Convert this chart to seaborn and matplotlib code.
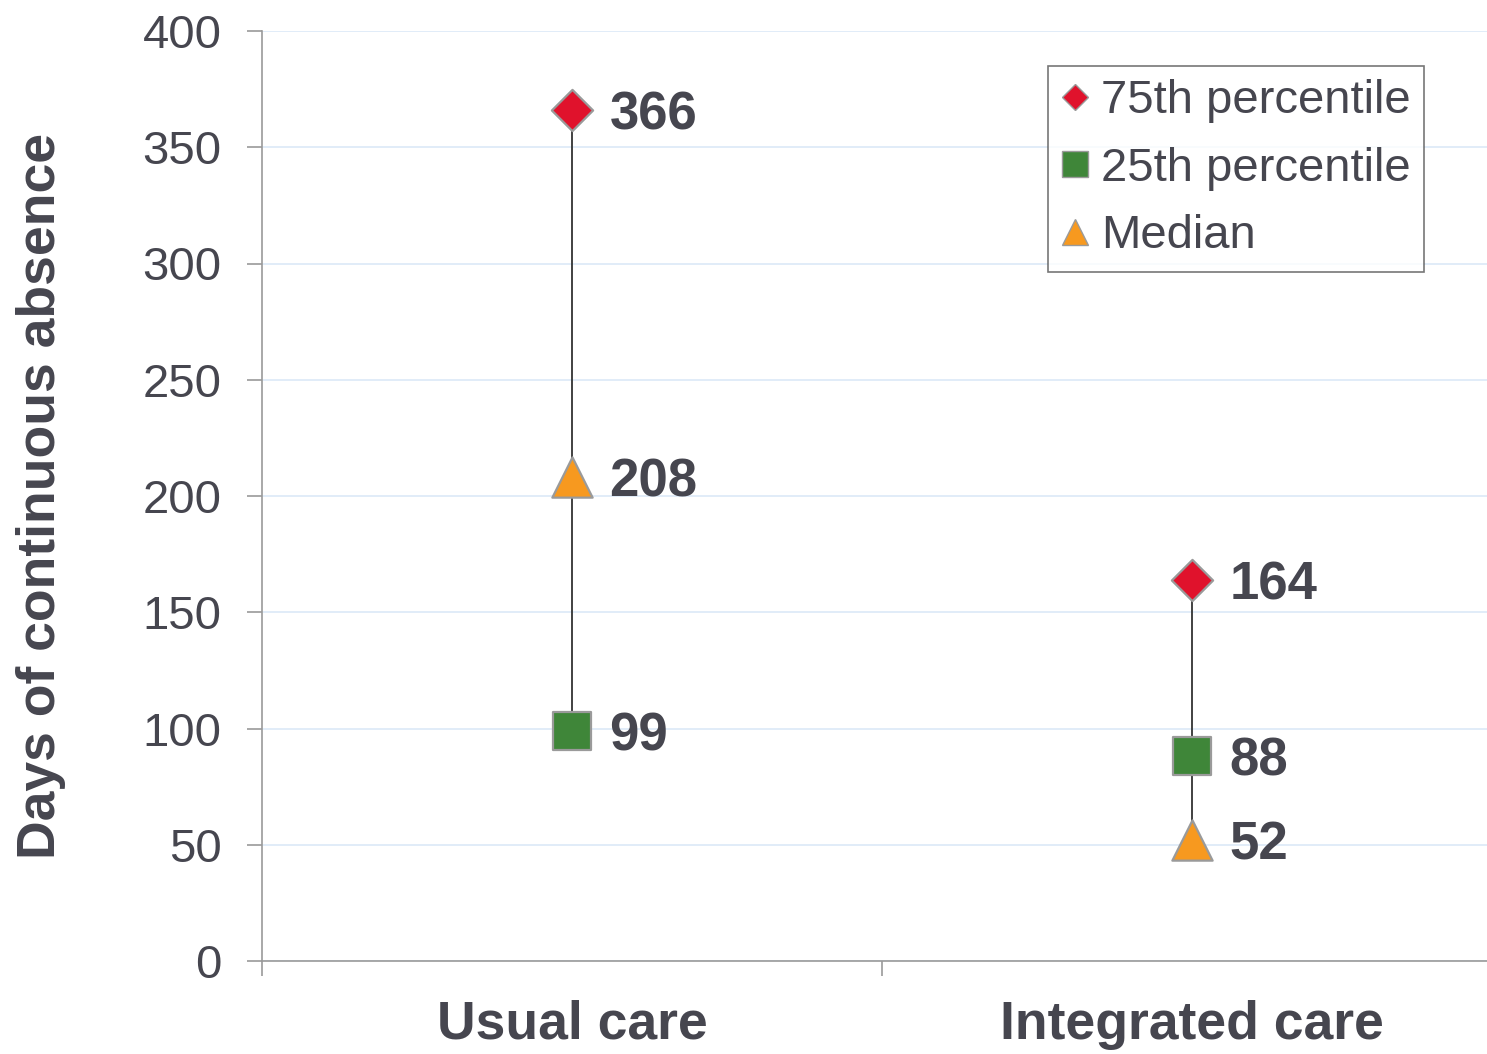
import matplotlib
matplotlib.use("Agg")
import matplotlib.pyplot as plt
from matplotlib.lines import Line2D
import numpy as np
import pandas as pd
import seaborn as sns

# data
groups = ['Usual care', 'Integrated care']
stats = ['75th percentile', '25th percentile', 'Median']
p75 = [366, 164]
p25 = [99, 88]
median = [208, 52]
yticks = [0, 50, 100, 150, 200, 250, 300, 350, 400]

colors = {'75th percentile': '#e0122c', '25th percentile': '#3f8639', 'Median': '#f7991f'}
markers = {'75th percentile': 'D', '25th percentile': 's', 'Median': '^'}
msize = {'75th percentile': 21, '25th percentile': 28, 'Median': 29}
leg_msize = {'75th percentile': 13, '25th percentile': 19, 'Median': 19}

df = pd.DataFrame({
    'group': groups * 3,
    'stat': [s for s in stats for _ in groups],
    'value': p75 + p25 + median,
})

sns.set_style("white")
plt.rcParams['font.family'] = ['Liberation Sans', 'DejaVu Sans']
txt = '#46464f'
edge = '#9a9a9a'

fig = plt.figure(figsize=(14.87, 10.54), dpi=100)
ax = fig.add_axes([262/1487, 1 - 961/1054, 1240/1487, 930/1054])

# thin line from lowest to highest value in each group
xpos = {g: i for i, g in enumerate(groups)}
rng = df.groupby('group')['value'].agg(['min', 'max'])
for g in groups:
    ax.vlines(xpos[g], rng.loc[g, 'min'], rng.loc[g, 'max'], color='#333333', lw=1.3, zorder=2)

for s in stats:
    sub = df[df['stat'] == s]
    sns.scatterplot(data=sub, x='group', y='value', marker=markers[s], color=colors[s],
                    s=msize[s] ** 2, edgecolor=edge, linewidth=1.6, zorder=3, ax=ax, legend=False)

for _, r in df.iterrows():
    ax.annotate(str(r['value']), (xpos[r['group']], r['value']), xytext=(27, 0),
                textcoords='offset points', ha='left', va='center_baseline',
                fontsize=38, fontweight='bold', color=txt)

ax.set_xlim(-0.5, 1.5)
ax.set_ylim(0, 400)
ax.set_yticks(yticks)
ax.set_xticks(range(len(groups)))
ax.set_xticklabels(groups, fontsize=38.5, fontweight='bold', color=txt)
ax.set_xticks([-0.5, 0.5, 1.5], minor=True)
ax.tick_params(axis='x', which='major', bottom=True, length=0, pad=28)
ax.tick_params(axis='x', which='minor', bottom=True, length=11, width=1.2, color=edge)
ax.tick_params(axis='y', left=True, length=11, width=1.2, color=edge, labelsize=34,
               labelcolor=txt, pad=18)
ax.set_xlabel('')
ax.set_ylabel('Days of continuous absence', fontsize=38.5, fontweight='bold', color=txt, labelpad=55)

ax.yaxis.grid(True, color='#dbe9f7', lw=1.2)
ax.set_axisbelow(True)
for side in ['top', 'right']:
    ax.spines[side].set_visible(False)
for side in ['left', 'bottom']:
    ax.spines[side].set_color(edge)
    ax.spines[side].set_linewidth(1.2)

handles = [Line2D([], [], ls='none', marker=markers[s], markersize=leg_msize[s],
                  markerfacecolor=colors[s], markeredgecolor=edge, markeredgewidth=1.0)
           for s in stats]
leg = fig.legend(handles, stats, loc='upper left', bbox_to_anchor=(1048/1487, 1 - 66/1054),
                 fontsize=34, frameon=True, fancybox=False, borderaxespad=0,
                 handlelength=0.6, handletextpad=0.25, borderpad=0.28, labelspacing=0.5)
leg.get_frame().set_edgecolor('#555555')
leg.get_frame().set_linewidth(1.2)
for t in leg.get_texts():
    t.set_color(txt)

fig.savefig('out.png', dpi=100, facecolor='white')
